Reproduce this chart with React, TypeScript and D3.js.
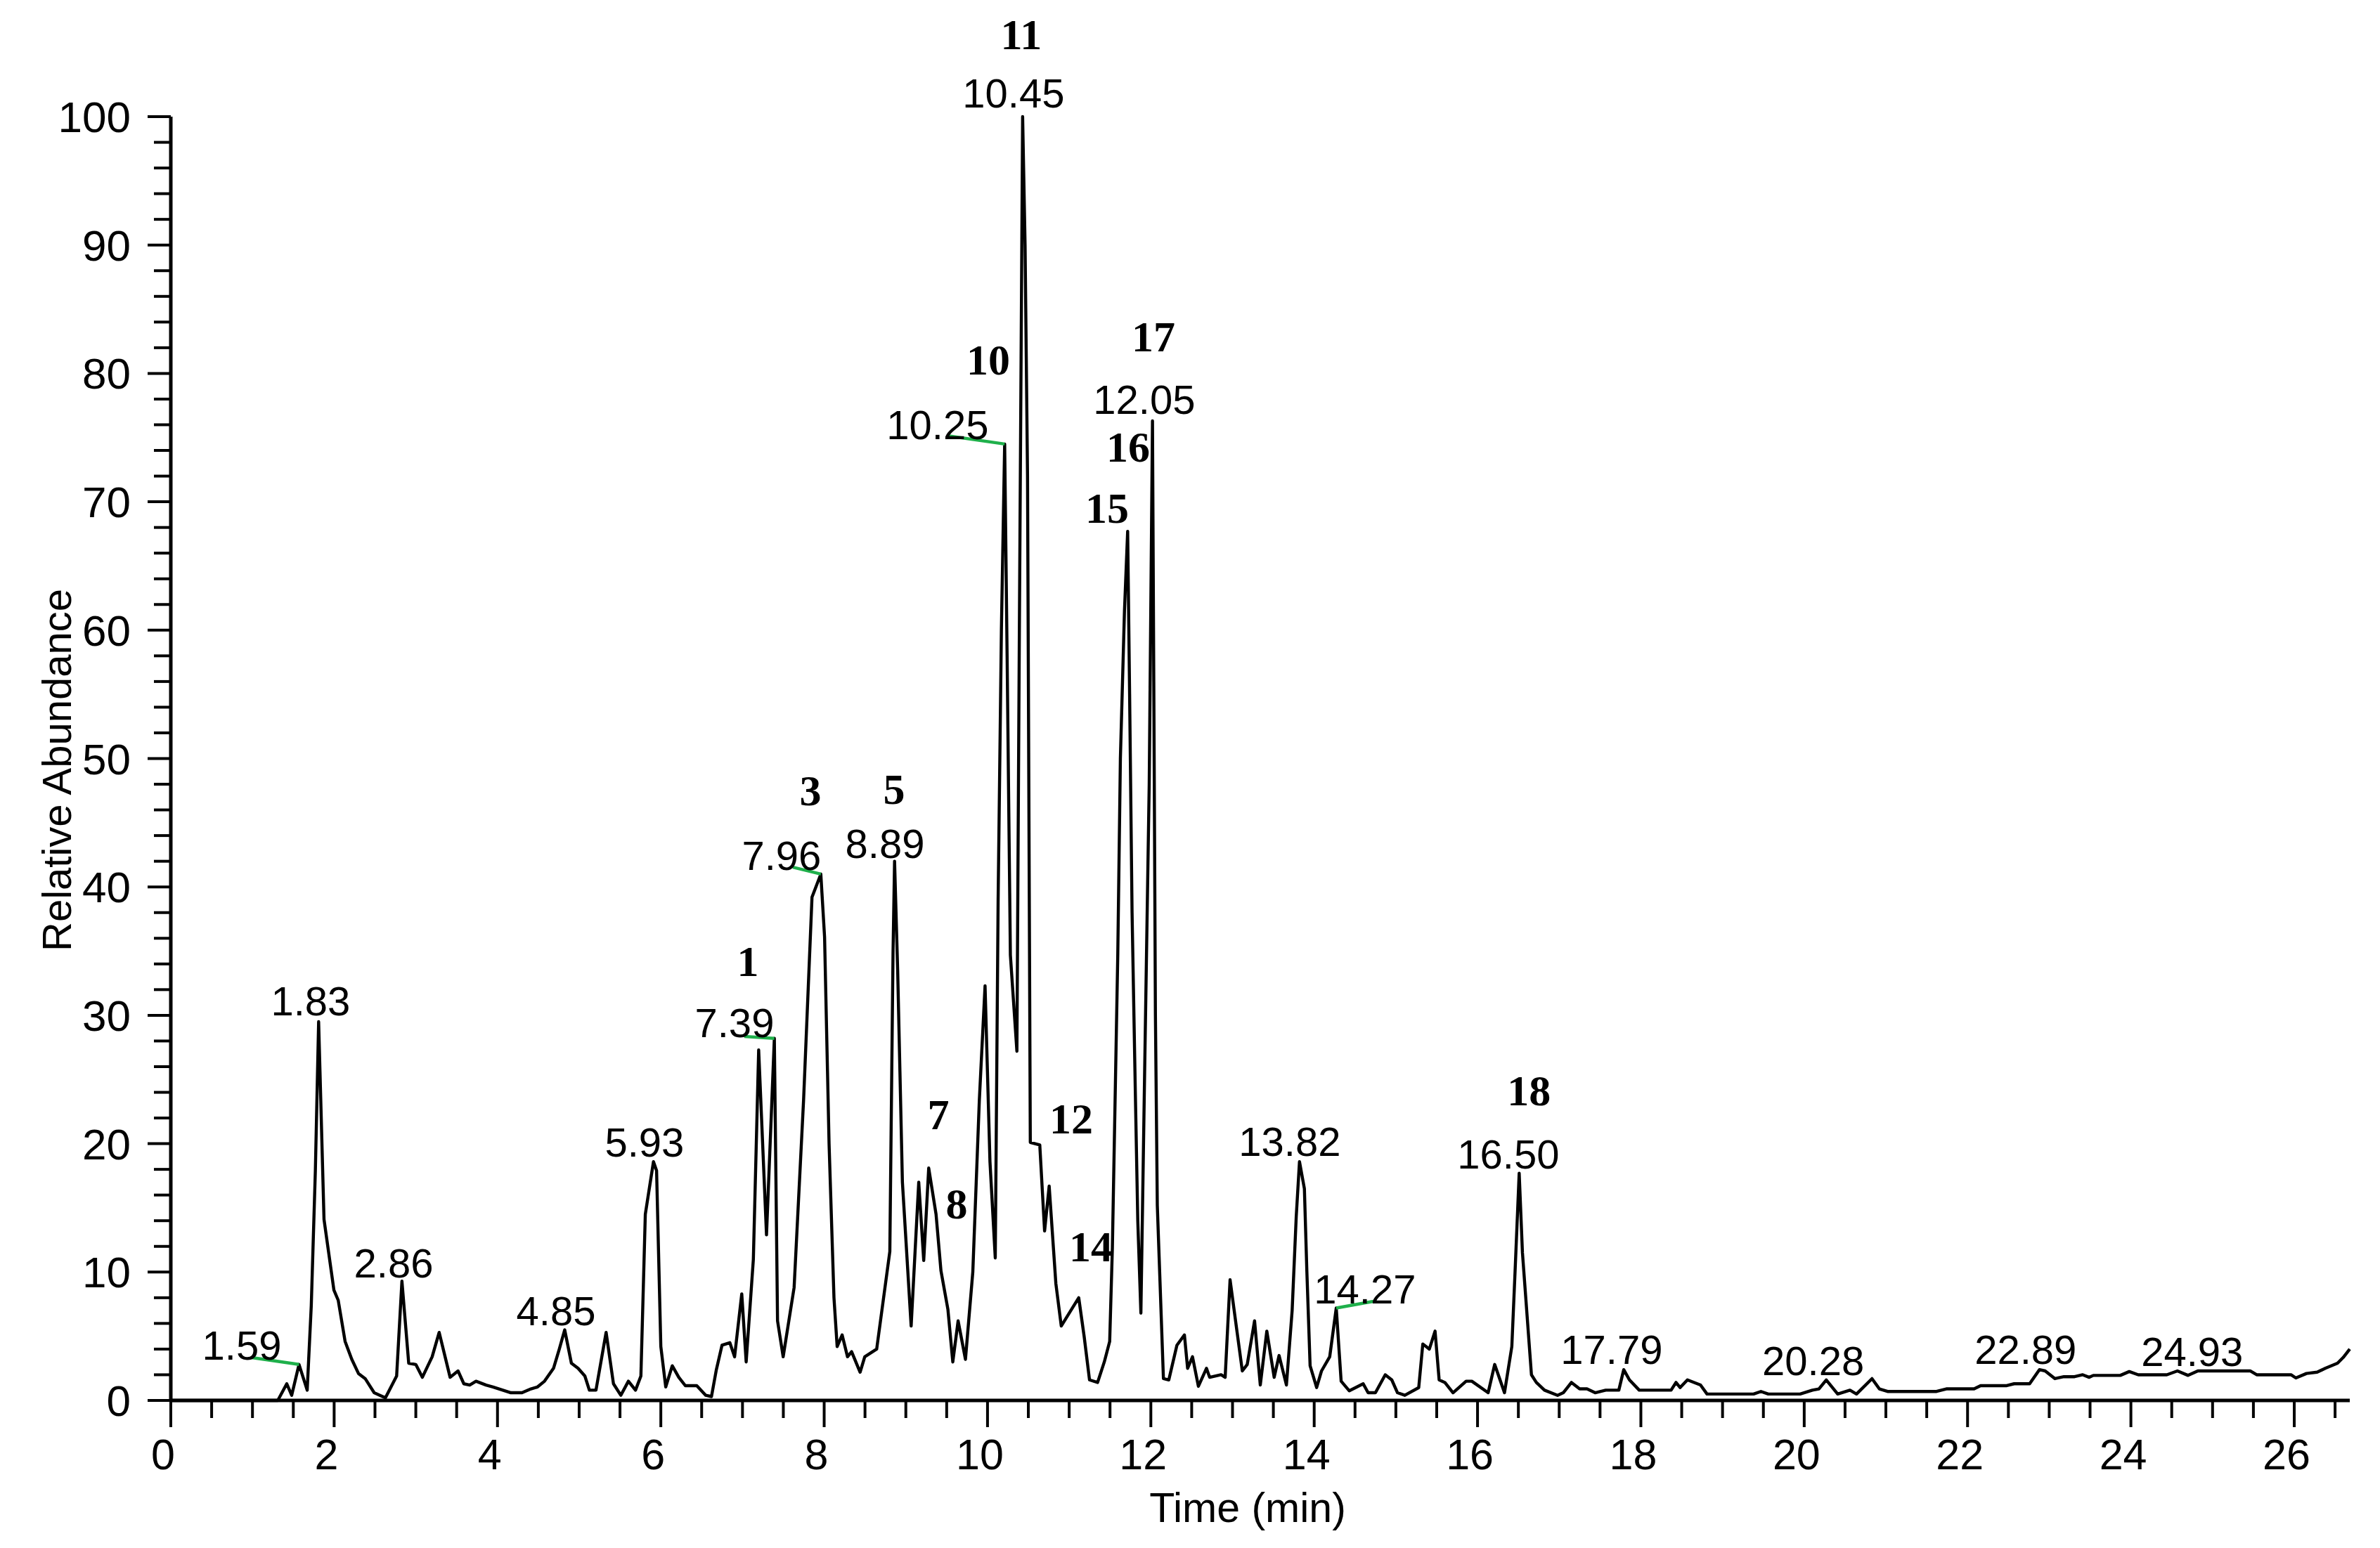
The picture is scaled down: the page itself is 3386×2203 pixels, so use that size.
import React from "react";
import * as d3 from "d3";

const W = 3386;
const H = 2203;

// Chromatogram trace
const timeMin = [
  0, 1.31, 1.42, 1.48, 1.57, 1.67, 1.72, 1.77, 1.81, 1.876, 1.997, 2.05, 2.134, 2.216, 2.298, 2.38, 2.49, 2.56, 2.628, 2.765,
  2.83, 2.913, 3.0, 3.08, 3.2, 3.286, 3.42, 3.517, 3.588, 3.66, 3.737, 3.86, 3.945, 4.165, 4.3, 4.41, 4.49, 4.576, 4.686, 4.757,
  4.823, 4.905, 4.987, 5.07, 5.125, 5.206, 5.33, 5.42, 5.51, 5.603, 5.69, 5.756, 5.81, 5.91, 5.948, 6.0, 6.06, 6.14, 6.22, 6.3,
  6.44, 6.55, 6.62, 6.68, 6.749, 6.845, 6.903, 6.991, 7.045, 7.133, 7.198, 7.294, 7.39, 7.429, 7.498, 7.632, 7.748, 7.851, 7.959, 8.005,
  8.06, 8.12, 8.159, 8.22, 8.286, 8.336, 8.44, 8.497, 8.643, 8.804, 8.843, 8.862, 8.9, 8.958, 9.065, 9.158, 9.219, 9.28, 9.37, 9.43,
  9.515, 9.575, 9.64, 9.73, 9.82, 9.9, 9.97, 10.03, 10.095, 10.13, 10.17, 10.21, 10.24, 10.28, 10.36, 10.39, 10.43, 10.46, 10.49, 10.524,
  10.64, 10.699, 10.755, 10.837, 10.903, 11.117, 11.183, 11.249, 11.348, 11.43, 11.496, 11.529, 11.595, 11.627, 11.677, 11.716, 11.74, 11.77, 11.81, 11.84,
  11.878, 11.924, 11.98, 12.02, 12.036, 12.056, 12.079, 12.154, 12.22, 12.319, 12.411, 12.45, 12.51, 12.582, 12.681, 12.72, 12.86, 12.91, 12.97, 13.05,
  13.12, 13.18, 13.27, 13.34, 13.42, 13.51, 13.57, 13.66, 13.73, 13.78, 13.82, 13.88, 13.91, 13.95, 14.03, 14.09, 14.19, 14.27, 14.33, 14.43,
  14.6, 14.66, 14.75, 14.87, 14.95, 15.02, 15.11, 15.28, 15.33, 15.41, 15.48, 15.53, 15.6, 15.7, 15.86, 15.93, 16.13, 16.21, 16.33, 16.42,
  16.46, 16.51, 16.55, 16.66, 16.72, 16.82, 16.98, 17.05, 17.15, 17.25, 17.34, 17.44, 17.57, 17.73, 17.79, 17.86, 17.98, 18.37, 18.43, 18.48,
  18.57, 18.73, 18.81, 19.38, 19.47, 19.56, 19.95, 20.1, 20.18, 20.27, 20.41, 20.56, 20.64, 20.83, 20.92, 21.02, 21.62, 21.74, 22.08, 22.16,
  22.48, 22.57, 22.76, 22.88, 22.95, 23.07, 23.18, 23.31, 23.41, 23.49, 23.54, 23.87, 23.98, 24.09, 24.44, 24.57, 24.7, 24.82, 25.46, 25.54,
  25.96, 26.02, 26.15, 26.28, 26.38, 26.53, 26.6, 26.68,
];
const abundance = [
  0, 0, 1.3, 0.4, 2.8, 0.8, 7.4, 17.9, 29.5, 14.1, 8.6, 7.8, 4.6, 3.2, 2.1, 1.7, 0.6, 0.4, 0.2, 1.9,
  9.3, 2.9, 2.8, 1.8, 3.4, 5.3, 1.8, 2.3, 1.3, 1.2, 1.5, 1.2, 1.05, 0.6, 0.6, 0.9, 1.05, 1.5, 2.5, 4.0,
  5.5, 2.9, 2.5, 1.9, 0.8, 0.8, 5.3, 1.3, 0.4, 1.5, 0.8, 1.9, 14.5, 18.6, 17.9, 4.2, 1.05, 2.7, 1.8, 1.15,
  1.15, 0.4, 0.3, 2.4, 4.3, 4.5, 3.4, 8.3, 3.0, 11.0, 27.3, 12.9, 28.2, 6.2, 3.4, 8.8, 23.4, 39.2, 41.0, 36.1,
  20, 8, 4.2, 5.1, 3.4, 3.8, 2.2, 3.4, 4.0, 11.6, 34.8, 42.0, 33.5, 17.0, 5.8, 17.0, 10.9, 18.1, 14.5, 10.1,
  7.1, 3.0, 6.2, 3.2, 10.0, 23.4, 32.3, 18.6, 11.1, 39.0, 60, 74.5, 58, 34.7, 27.2, 60, 100, 90, 72, 20.1,
  19.9, 13.2, 16.7, 9.1, 5.8, 8.0, 5.0, 1.6, 1.4, 3.0, 4.6, 11.9, 34.7, 50, 61.5, 67.7, 55, 38, 24, 14,
  6.8, 25.6, 48, 76.3, 56, 30, 15.2, 1.7, 1.6, 4.3, 5.1, 2.5, 3.4, 1.1, 2.5, 1.8, 2.0, 1.8, 9.4, 5.6,
  2.3, 2.8, 6.2, 1.2, 5.4, 1.8, 3.5, 1.2, 7.0, 14.3, 18.6, 16.5, 10.1, 2.7, 1.0, 2.3, 3.4, 7.2, 1.5, 0.75,
  1.3, 0.6, 0.6, 2.0, 1.6, 0.6, 0.4, 1.0, 4.4, 4.0, 5.4, 1.6, 1.4, 0.6, 1.5, 1.5, 0.6, 2.8, 0.6, 4.2,
  10.1, 17.7, 11.5, 2.0, 1.4, 0.8, 0.4, 0.6, 1.4, 0.9, 0.9, 0.6, 0.8, 0.8, 2.4, 1.6, 0.8, 0.8, 1.4, 1.0,
  1.6, 1.2, 0.5, 0.5, 0.7, 0.5, 0.5, 0.8, 0.9, 1.6, 0.5, 0.8, 0.5, 1.7, 0.9, 0.7, 0.7, 0.9, 0.9, 1.15,
  1.15, 1.3, 1.3, 2.4, 2.3, 1.7, 1.85, 1.85, 2.0, 1.8, 1.95, 1.95, 2.25, 2.0, 2.0, 2.3, 1.95, 2.3, 2.3, 2.0,
  2.0, 1.75, 2.1, 2.2, 2.5, 2.9, 3.35, 4.0,
];

// Axis ticks
const xTickLabels = [0, 2, 4, 6, 8, 10, 12, 14, 16, 18, 20, 22, 24, 26];
const yTickLabels = [0, 10, 20, 30, 40, 50, 60, 70, 80, 90, 100];

// Retention-time labels (anchor in data coordinates: centre x, baseline y)
const rtText = ["1.59", "1.83", "2.86", "4.85", "5.93", "7.39", "7.96", "8.89", "10.25", "10.45", "12.05", "13.82", "14.27", "16.50", "17.79", "20.28", "22.89", "24.93"];
const rtT = [0.869, 1.712, 2.728, 4.716, 5.8, 6.902, 7.478, 8.744, 9.389, 10.318, 11.919, 13.701, 14.621, 16.377, 17.642, 20.11, 22.71, 24.75];
const rtV = [3.17, 29.99, 9.58, 5.86, 18.99, 28.3, 41.32, 42.26, 74.88, 100.71, 76.85, 19.05, 7.53, 18.06, 2.85, 1.97, 2.85, 2.68];

// Compound numbers
const cmpText = ["1", "3", "5", "7", "8", "10", "11", "12", "14", "15", "16", "17", "18"];
const cmpT = [7.065, 7.831, 8.855, 9.398, 9.621, 10.009, 10.413, 11.024, 11.265, 11.463, 11.721, 12.031, 16.63];
const cmpV = [33.06, 46.36, 46.47, 21.13, 14.18, 79.91, 105.25, 20.8, 10.84, 68.36, 73.13, 81.72, 23.0];

// Green leader lines (label -> peak)
const leadFromT = [0.99, 7.022, 7.616, 9.501, 14.724];
const leadFromV = [3.34, 28.35, 41.54, 75.15, 7.72];
const leadToT = [1.57, 7.39, 7.959, 10.21, 14.27];
const leadToV = [2.8, 28.2, 41.0, 74.5, 7.2];

export default function App() {
  const x = d3.scaleLinear().domain([0, 26.68]).range([243, 3343]);
  const y = d3.scaleLinear().domain([0, 100]).range([1993, 166]);

  const pts = timeMin.map((t, i) => [t, abundance[i]] as [number, number]);
  const line = d3
    .line<[number, number]>()
    .x((d) => x(d[0]))
    .y((d) => y(d[1]));

  const xMinor = d3.range(0, 26.51, 0.5);
  const yMinor = d3.range(0, 100.1, 2);
  const sans = "'Liberation Sans', Arial, sans-serif";
  const serif = "'Liberation Serif', 'Times New Roman', serif";

  return (
    <svg
      width={W}
      height={H}
      viewBox={`0 0 ${W} ${H}`}
      style={{ position: "absolute", left: 0, top: 0, display: "block", background: "#fff" }}
    >
      <rect x={0} y={0} width={W} height={H} fill="#fff" />

      {/* trace */}
      <path d={line(pts) || ""} fill="none" stroke="#000" strokeWidth={4.4} strokeLinejoin="round" />

      {/* leader lines */}
      {leadFromT.map((t, i) => (
        <line
          key={"ld" + i}
          x1={x(t)}
          y1={y(leadFromV[i])}
          x2={x(leadToT[i])}
          y2={y(leadToV[i])}
          stroke="#1fb04b"
          strokeWidth={4.5}
        />
      ))}

      {/* axes */}
      <line x1={x(0)} y1={y(0)} x2={x(26.68)} y2={y(0)} stroke="#000" strokeWidth={5} />
      <line x1={x(0)} y1={y(0) + 2} x2={x(0)} y2={y(100)} stroke="#000" strokeWidth={5} />

      {xMinor.map((t) => {
        const major = Math.abs(t / 2 - Math.round(t / 2)) < 1e-6;
        return (
          <line key={"xt" + t} x1={x(t)} x2={x(t)} y1={y(0)} y2={y(0) + (major ? 38 : 25)} stroke="#000" strokeWidth={4} />
        );
      })}
      {yMinor.map((v) => {
        const major = Math.abs(v / 10 - Math.round(v / 10)) < 1e-6;
        return (
          <line key={"yt" + v} x1={x(0)} x2={x(0) - (major ? 33 : 24)} y1={y(v)} y2={y(v)} stroke="#000" strokeWidth={4} />
        );
      })}

      {xTickLabels.map((t) => (
        <text key={"xl" + t} x={x(t) - 11} y={2091} fontFamily={sans} fontSize={61} textAnchor="middle" fill="#000">
          {t}
        </text>
      ))}
      {yTickLabels.map((v) => (
        <text key={"yl" + v} x={186} y={y(v) + 22} fontFamily={sans} fontSize={62} textAnchor="end" fill="#000">
          {v}
        </text>
      ))}

      {/* axis titles */}
      <text x={1775} y={2166} fontFamily={sans} fontSize={59} textAnchor="middle" fill="#000">
        Time (min)
      </text>
      <text
        transform={`translate(101, 1096) rotate(-90)`}
        fontFamily={sans}
        fontSize={58}
        textAnchor="middle"
        fill="#000"
      >
        Relative Abundance
      </text>

      {/* retention time labels */}
      {rtText.map((s, i) => (
        <text key={"rt" + i} x={x(rtT[i])} y={y(rtV[i])} fontFamily={sans} fontSize={58} textAnchor="middle" fill="#000">
          {s}
        </text>
      ))}

      {/* compound numbers */}
      {cmpText.map((s, i) => (
        <text
          key={"cp" + i}
          x={x(cmpT[i])}
          y={y(cmpV[i])}
          fontFamily={serif}
          fontWeight="bold"
          fontSize={62}
          textAnchor="middle"
          fill="#000"
        >
          {s}
        </text>
      ))}
    </svg>
  );
}
